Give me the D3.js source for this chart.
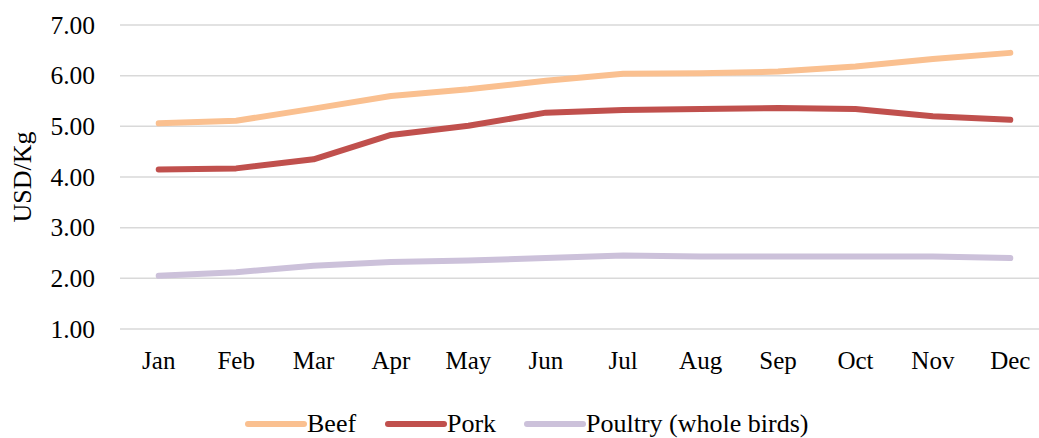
<!DOCTYPE html>
<html>
<head>
<meta charset="utf-8">
<script src="https://cdn.jsdelivr.net/npm/d3@7"></script>
<style>
  body { margin: 0; background: #fff; }
  text { font-family: "Liberation Serif", "Times New Roman", serif; fill: #000; }
</style>
</head>
<body>
<svg id="chart"></svg>
<script>
// data
const months = ["Jan", "Feb", "Mar", "Apr", "May", "Jun", "Jul", "Aug", "Sep", "Oct", "Nov", "Dec"];
const beef = [5.06, 5.11, 5.35, 5.60, 5.73, 5.90, 6.04, 6.05, 6.08, 6.18, 6.33, 6.45];
const pork = [4.15, 4.17, 4.35, 4.83, 5.01, 5.27, 5.32, 5.34, 5.36, 5.34, 5.20, 5.13];
const poultry = [2.05, 2.12, 2.25, 2.32, 2.35, 2.40, 2.45, 2.43, 2.43, 2.43, 2.43, 2.40];
const yTicks = [1, 2, 3, 4, 5, 6, 7];

const seriesList = [
  { name: "Beef", values: beef, color: "#fac090" },
  { name: "Pork", values: pork, color: "#c0504d" },
  { name: "Poultry (whole birds)", values: poultry, color: "#ccc1da" }
];

const width = 1039, height = 438;
const margin = { top: 25, right: -10, bottom: 109, left: 120 };

const svg = d3.select("#chart")
    .attr("width", width)
    .attr("height", height);

const innerW = width - margin.left - margin.right;
const innerH = height - margin.top - margin.bottom;

const chart = svg.append("g")
    .attr("transform", `translate(${margin.left},${margin.top})`);

// scales
const xScale = d3.scaleBand()
    .domain(months)
    .range([0, innerW]);

const yScale = d3.scaleLinear()
    .domain([1, 7])
    .range([innerH, 0]);

// gridlines
chart.selectAll(".grid")
  .data(yTicks)
  .join("line")
    .attr("class", "grid")
    .attr("x1", 0)
    .attr("x2", innerW)
    .attr("y1", d => yScale(d))
    .attr("y2", d => yScale(d))
    .attr("stroke", "#d9d9d9")
    .attr("stroke-width", 1.5);

// y axis labels
const yAxis = d3.axisLeft(yScale)
    .tickValues(yTicks)
    .tickFormat(d3.format(".2f"))
    .tickSize(0)
    .tickPadding(25);
const yAxisG = chart.append("g").call(yAxis);
yAxisG.select(".domain").remove();
yAxisG.selectAll("text")
    .style("font-size", "25.5px")
    .style("font-family", "Liberation Serif, serif")
    .attr("fill", "#000");

// x axis labels
const xAxis = d3.axisBottom(xScale).tickSize(0).tickPadding(22);
const xAxisG = chart.append("g")
    .attr("transform", `translate(0,${innerH})`)
    .call(xAxis);
xAxisG.select(".domain").remove();
xAxisG.selectAll("text")
    .style("font-size", "25px")
    .style("font-family", "Liberation Serif, serif")
    .attr("fill", "#000");

// y title
svg.append("text")
    .attr("transform", "translate(31,177) rotate(-90)")
    .attr("text-anchor", "middle")
    .style("font-size", "26px")
    .text("USD/Kg");

// lines
const line = d3.line()
    .x((d, i) => xScale(months[i]) + xScale.bandwidth() / 2)
    .y(d => yScale(d));

chart.selectAll(".series")
  .data(seriesList)
  .join("path")
    .attr("class", "series")
    .attr("fill", "none")
    .attr("stroke", d => d.color)
    .attr("stroke-width", 6)
    .attr("stroke-linecap", "round")
    .attr("stroke-linejoin", "round")
    .attr("d", d => line(d.values));

// legend
const legendX = [248, 388, 527];
const legend = svg.append("g").attr("transform", "translate(0,424)");
const items = legend.selectAll("g")
  .data(seriesList)
  .join("g")
    .attr("transform", (d, i) => `translate(${legendX[i]},0)`);
items.append("line")
    .attr("x1", 0).attr("x2", 56)
    .attr("y1", 0).attr("y2", 0)
    .attr("stroke", d => d.color)
    .attr("stroke-width", 6)
    .attr("stroke-linecap", "round");
items.append("text")
    .attr("x", 59)
    .attr("y", 7.5)
    .style("font-size", "26px")
    .text(d => d.name);
</script>
</body>
</html>
